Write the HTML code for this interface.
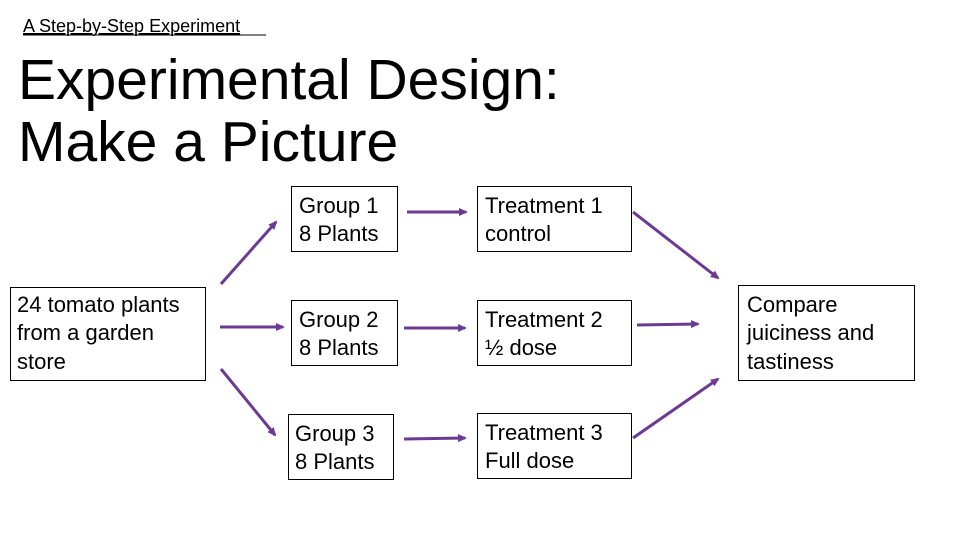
<!DOCTYPE html>
<html><head><style>
body{margin:0;background:#fff;}
svg{display:block;font-family:"Liberation Sans",sans-serif;}
</style></head><body>
<svg width="960" height="540" viewBox="0 0 960 540">
<defs><marker id="a" markerWidth="10" markerHeight="10" refX="7" refY="5" orient="auto" markerUnits="userSpaceOnUse"><path d="M0,1 L9,5 L0,9 Z" fill="#6b3a92"/></marker></defs>
<text x="23" y="32" font-size="18" text-decoration="underline">A Step-by-Step Experiment</text>
<line x1="23" y1="35" x2="266" y2="35" stroke="#000" stroke-width="1"/>
<text x="18" y="99" font-size="57">Experimental Design:</text>
<text x="18" y="161" font-size="57">Make a Picture</text>
<g fill="none" stroke="#000" stroke-width="1">
<rect x="10.5" y="287.5" width="195" height="93"/>
<rect x="291.5" y="186.5" width="106" height="65"/>
<rect x="291.5" y="300.5" width="106" height="65"/>
<rect x="288.5" y="414.5" width="105" height="65"/>
<rect x="477.5" y="186.5" width="154" height="65"/>
<rect x="477.5" y="300.5" width="154" height="65"/>
<rect x="477.5" y="413.5" width="154" height="65"/>
<rect x="738.5" y="285.5" width="176" height="95"/>
</g>
<g font-size="22" fill="#000">
<text x="17" y="312">24 tomato plants</text><text x="17" y="340">from a garden</text><text x="17" y="369">store</text>
<text x="299" y="213">Group 1</text><text x="299" y="241">8 Plants</text>
<text x="299" y="327">Group 2</text><text x="299" y="355">8 Plants</text>
<text x="295" y="441">Group 3</text><text x="295" y="469">8 Plants</text>
<text x="485" y="213">Treatment 1</text><text x="485" y="241">control</text>
<text x="485" y="327">Treatment 2</text><text x="485" y="355">½ dose</text>
<text x="485" y="440">Treatment 3</text><text x="485" y="468">Full dose</text>
<text x="747" y="312">Compare</text><text x="747" y="340">juiciness and</text><text x="747" y="369">tastiness</text>
</g>
<g stroke="#6b3a92" stroke-width="3" marker-end="url(#a)">
<line x1="221" y1="284" x2="276" y2="222"/>
<line x1="220" y1="327" x2="283" y2="327"/>
<line x1="221" y1="369" x2="275" y2="435"/>
<line x1="407" y1="212" x2="466" y2="212"/>
<line x1="404" y1="328" x2="465" y2="328"/>
<line x1="404" y1="439" x2="465" y2="438"/>
<line x1="633" y1="212" x2="718" y2="278"/>
<line x1="637" y1="325" x2="698" y2="324"/>
<line x1="633" y1="438" x2="718" y2="379"/>
</g>
</svg>
</body></html>
